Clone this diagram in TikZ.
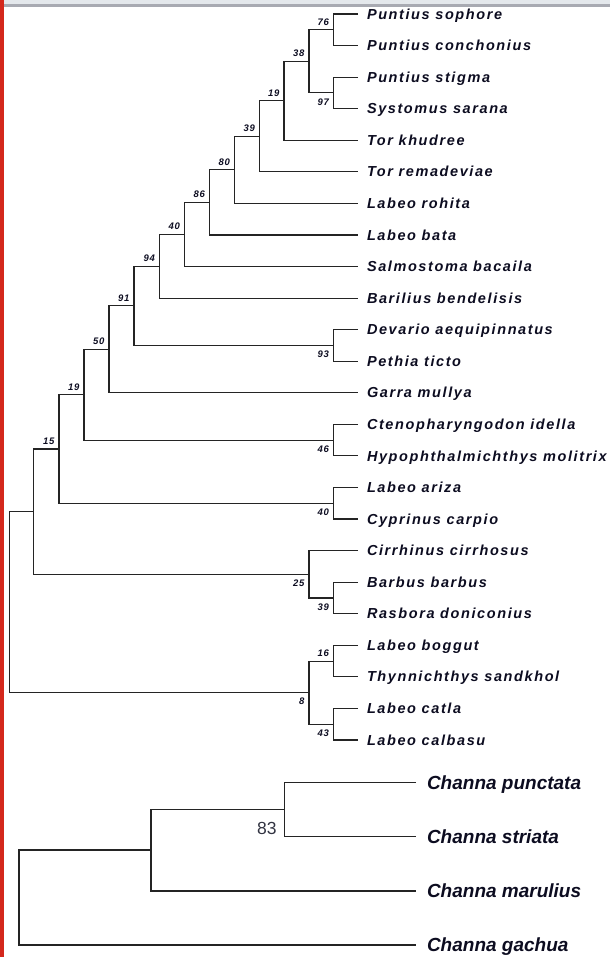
\documentclass[tikz,border=0pt]{standalone}
\usepackage{fontspec}
\setmainfont{Liberation Sans}
\newfontfamily\leaffont[LetterSpace=11]{Liberation Sans}
\newfontfamily\bootfont[LetterSpace=8]{Liberation Sans}
\usetikzlibrary{positioning}
\definecolor{inkblue}{RGB}{12,12,32}
\definecolor{barred}{RGB}{212,40,28}
\definecolor{bandgray}{RGB}{228,232,236}
\definecolor{bandline}{RGB}{168,170,178}
\definecolor{branchgray}{RGB}{36,36,36}
\definecolor{bootgray}{RGB}{50,52,66}
\newcommand{\trow}[1]{14+31.565*(#1)}
\newcommand{\crow}[1]{782.3+54.25*(#1)}

\begin{document}
\begin{tikzpicture}[x=1pt,y=-1pt,
  leaf/.style={anchor=west,inner xsep=9pt,inner ysep=0pt,outer sep=0pt,
    text height=10.2pt,text depth=0pt,text=inkblue,
    font=\leaffont\bfseries\itshape\fontsize{14.5}{15}\selectfont},
  bigleaf/.style={leaf,inner xsep=11pt,text height=13.6pt,
    font=\bfseries\itshape\fontsize{19}{20}\selectfont},
  boot/.style={inner sep=0pt,outer sep=0pt,text depth=0pt,text=inkblue,
    font=\bootfont\bfseries\itshape\fontsize{9.5}{10}\selectfont},
  bigboot/.style={boot,text=bootgray,font=\fontsize{17.5}{18}\selectfont},
  branch/.style={draw=branchgray,line width=1.1pt},
  bigbranch/.style={draw=branchgray,line width=1.5pt}]
\useasboundingbox (0,0) rectangle (610,957);
% window edge
\fill[barred] (0,0) rectangle (4,957);
\fill[bandgray] (4,0) rectangle (610,4);
\fill[bandline] (4,4) rectangle (610,7);

% Cyprinid tree
\foreach \nm/\txt [count=\i from 0] in {psophore/Puntius sophore,
  pconchonius/Puntius conchonius, pstigma/Puntius stigma,
  ssarana/Systomus sarana, tkhudree/Tor khudree,
  tremadeviae/Tor remadeviae, lrohita/Labeo rohita, lbata/Labeo bata,
  sbacaila/Salmostoma bacaila, bbendelisis/Barilius bendelisis,
  daequi/Devario aequipinnatus, pticto/Pethia ticto, gmullya/Garra mullya,
  cidella/Ctenopharyngodon idella, hmolitrix/Hypophthalmichthys molitrix,
  lariza/Labeo ariza, ccarpio/Cyprinus carpio,
  ccirrhosus/Cirrhinus cirrhosus, bbarbus/Barbus barbus,
  rdoniconius/Rasbora doniconius, lboggut/Labeo boggut,
  tsandkhol/Thynnichthys sandkhol, lcatla/Labeo catla,
  lcalbasu/Labeo calbasu}
  \node[leaf] (\nm) at (358,{\trow{\i}}) {\txt};

\coordinate (n76) at (333.5,{\trow{0.5}});
\coordinate (n97) at (333.5,{\trow{2.5}});
\coordinate (n38) at (309,{\trow{1.5}});
\coordinate (n19a) at (284,{\trow{2.75}});
\coordinate (n39a) at (259.5,{\trow{3.875}});
\coordinate (n80) at (234.5,{\trow{4.9375}});
\coordinate (n86) at (209.5,{\trow{5.96875}});
\coordinate (n40a) at (184.5,{\trow{6.984375}});
\coordinate (n94) at (159.5,{\trow{7.9921875}});
\coordinate (n93) at (333.5,{\trow{10.5}});
\coordinate (n91) at (134,{\trow{9.24609}});
\coordinate (n50) at (109,{\trow{10.62305}});
\coordinate (n46) at (333.5,{\trow{13.5}});
\coordinate (n19b) at (84,{\trow{12.06152}});
\coordinate (n40b) at (333.5,{\trow{15.5}});
\coordinate (n15) at (59,{\trow{13.78076}});
\coordinate (n39b) at (333.5,{\trow{18.5}});
\coordinate (n25) at (309,{\trow{17.75}});
\coordinate (nmid) at (33.5,{\trow{15.76538}});
\coordinate (n16) at (333.5,{\trow{20.5}});
\coordinate (n43) at (333.5,{\trow{22.5}});
\coordinate (n8) at (309,{\trow{21.5}});
\coordinate (nroot) at (9.5,{\trow{18.63269}});

\draw[branch] (psophore.west) -| (n76) |- (pconchonius.west);
\draw[branch] (pstigma.west) -| (n97) |- (ssarana.west);
\draw[branch] (n76) -| (n38) |- (n97);
\draw[branch] (n38) -| (n19a) |- (tkhudree.west);
\draw[branch] (n19a) -| (n39a) |- (tremadeviae.west);
\draw[branch] (n39a) -| (n80) |- (lrohita.west);
\draw[branch] (n80) -| (n86) |- (lbata.west);
\draw[branch] (n86) -| (n40a) |- (sbacaila.west);
\draw[branch] (n40a) -| (n94) |- (bbendelisis.west);
\draw[branch] (daequi.west) -| (n93) |- (pticto.west);
\draw[branch] (n94) -| (n91) |- (n93);
\draw[branch] (n91) -| (n50) |- (gmullya.west);
\draw[branch] (cidella.west) -| (n46) |- (hmolitrix.west);
\draw[branch] (n50) -| (n19b) |- (n46);
\draw[branch] (lariza.west) -| (n40b) |- (ccarpio.west);
\draw[branch] (n19b) -| (n15) |- (n40b);
\draw[branch] (bbarbus.west) -| (n39b) |- (rdoniconius.west);
\draw[branch] (ccirrhosus.west) -| (n25) |- (n39b);
\draw[branch] (n15) -| (nmid) |- (n25);
\draw[branch] (lboggut.west) -| (n16) |- (tsandkhol.west);
\draw[branch] (lcatla.west) -| (n43) |- (lcalbasu.west);
\draw[branch] (n16) -| (n8) |- (n43);
\draw[branch] (nmid) -| (nroot) |- (n8);

% bootstrap values
\foreach \nd/\val in {n76/76,n38/38,n19a/19,n39a/39,n80/80,n86/86,n40a/40,
  n94/94,n91/91,n50/50,n19b/19,n15/15,n16/16}
  \node[boot,above left=4.6pt and 4.5pt of \nd] (b\nd) {\val};
\foreach \nd/\val in {n97/97,n93/93,n46/46,n40b/40,n25/25,n39b/39,n8/8,n43/43}
  \node[boot,below left=5.6pt and 4.5pt of \nd] (b\nd) {\val};

% Channa tree
\foreach \nm/\txt [count=\i from 0] in {cpunctata/Channa punctata,
  cstriata/Channa striata, cmarulius/Channa marulius,
  cgachua/Channa gachua}
  \node[bigleaf] (\nm) at (416,{\crow{\i}}) {\txt};

\coordinate (c83) at (284.5,{\crow{0.5}});
\coordinate (cmid) at (151,{\crow{1.25}});
\coordinate (croot) at (19,{\crow{2.125}});

\draw[bigbranch] (cpunctata.west) -| (c83) |- (cstriata.west);
\draw[bigbranch] (c83) -| (cmid) |- (cmarulius.west);
\draw[bigbranch] (cmid) -| (croot) |- (cgachua.west);
\node[bigboot,below left=13pt and 7.8pt of c83] (bc83) {83};
\end{tikzpicture}
\end{document}
